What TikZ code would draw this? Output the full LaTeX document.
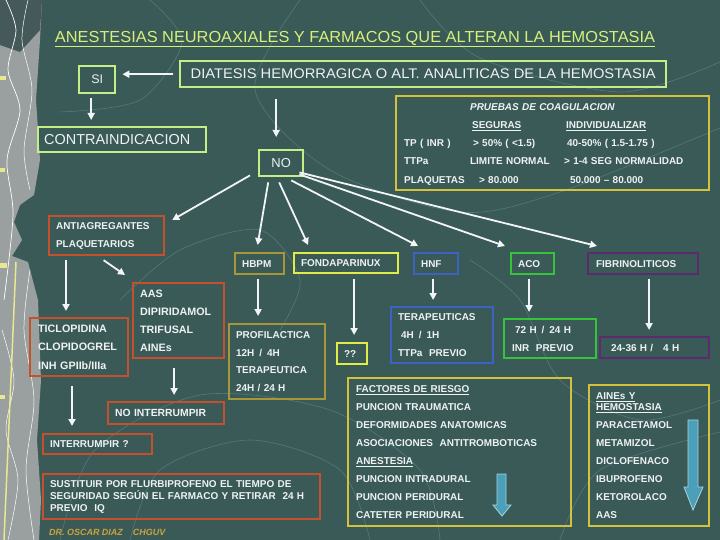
\documentclass[tikz,border=0pt]{standalone}
\usepackage{fontspec}
\setmainfont{Liberation Sans}
\usetikzlibrary{arrows.meta}
\definecolor{bgteal}{HTML}{3A5A58}
\definecolor{lgreen}{HTML}{C6EE86}
\definecolor{titlec}{HTML}{D6F07A}
\definecolor{gold}{HTML}{D2C23C}
\definecolor{redo}{HTML}{C4502C}
\definecolor{olive}{HTML}{A8963A}
\definecolor{ybright}{HTML}{E2EC48}
\definecolor{blueb}{HTML}{3C62C4}
\definecolor{greenb}{HTML}{38C43A}
\definecolor{purp}{HTML}{5C2A6E}
\definecolor{txt}{HTML}{EEF2F2}
\definecolor{arrw}{HTML}{F2F5F5}
\definecolor{foot}{HTML}{C9A33B}
\definecolor{bgline}{HTML}{55787A}
\definecolor{stripgray}{HTML}{9A9FA0}
\definecolor{stripdark}{HTML}{46595A}
\definecolor{stripyel}{HTML}{E8E890}
\definecolor{bigfill}{HTML}{4C9FB8}
\definecolor{bigedge}{HTML}{A6D4E2}
\newcommand\bxf{\fontsize{10}{18}\selectfont\bfseries}
\begin{document}
\begin{tikzpicture}[x=1bp,y=-1bp,
    lg/.style={draw=lgreen, line width=2.4bp, anchor=north west, inner sep=0pt, text=txt},
    bx/.style={draw, line width=2.2bp, anchor=north west, inner ysep=0pt, inner xsep=7bp, align=left, text=txt, font=\bxf},
    arr/.style={draw=arrw, line width=1.8bp, -{Triangle[length=7bp,width=7bp]}},
    bigarr/.style={fill=bigfill, draw=bigedge, line width=.8bp},
    bgl/.style={draw=bgline, line width=.6bp}]
    \useasboundingbox (0,0) rectangle (720,540);
    \fill[bgteal] (0,0) rectangle (720,540);
    \draw[bgl] plot[smooth] coordinates {(300,0) (255,90) (330,170) (460,212) (560,192) (720,128)};
    \draw[bgl] plot[smooth] coordinates {(420,0) (480,58) (620,92) (720,62)};
    \draw[bgl] plot[smooth] coordinates {(150,0) (182,42) (140,100) (60,112)};
    \draw[bgl] plot[smooth] coordinates {(60,540) (95,450) (200,395) (330,410) (420,470) (440,540)};
    \draw[bgl] plot[smooth] coordinates {(130,540) (160,470) (250,440) (340,470) (370,540)};
    \draw[bgl] plot[smooth] coordinates {(560,540) (600,470) (720,432)};
    \draw[bgl] plot[smooth] coordinates {(470,260) (520,300) (560,380) (640,420) (720,400)};
    \draw[bgl] plot[smooth] coordinates {(120,300) (180,250) (260,230) (300,280) (280,330)};
    \fill[stripgray] (0,0) -- (42,0) -- (40,40) -- (36,100) -- (40,160) -- (34,195) -- (20,205) -- (14,222) -- (22,240) -- (12,256) -- (28,262) -- (38,300) -- (41,380) -- (37,440) -- (41,500) -- (39,540) -- (0,540) -- cycle;
    \fill[stripdark] (0,0) -- (42,0) -- (40,30) -- (20,52) -- (0,45) -- cycle;
    \draw[white, line width=.7bp] plot[smooth] coordinates {(6,0) (16,30) (8,70) (20,110) (7,160) (13,215) (4,300)};
    \draw[white, line width=.5bp] plot[smooth] coordinates {(28,0) (22,40) (32,90) (24,150) (30,190)};
    \draw[white, line width=.5bp] plot[smooth] coordinates {(2,330) (14,380) (6,430) (18,480) (8,540)};
    \draw[white, line width=.5bp] plot[smooth] coordinates {(30,270) (24,330) (34,400) (26,470) (34,540)};
    \draw[stripyel, line width=1.5bp] (16,262) -- (4,540);
    \fill[stripyel] (0,76) rectangle (6,80);
    \fill[stripyel] (0,168) rectangle (5,172);
    \fill[stripyel] (0,263) rectangle (7,268);
    \fill[stripyel] (0,395) rectangle (5,399);

    \node[inner sep=0pt, text=titlec] (title) at (355,39) {\resizebox{600bp}{\height}{\fontsize{16}{18}\selectfont\underline{ANESTESIAS NEUROAXIALES Y FARMACOS QUE ALTERAN LA HEMOSTASIA}}};
    \node[lg, minimum width=486bp, minimum height=26bp] (diat) at (179,60) {\resizebox{465bp}{\height}{\fontsize{14}{16}\selectfont DIATESIS HEMORRAGICA O ALT. ANALITICAS DE LA HEMOSTASIA}};
    \node[lg, minimum width=36bp, minimum height=27bp, font=\fontsize{12.5}{14}\selectfont] (si) at (78,65) {SI};
    \node[bx, draw=lgreen, line width=2.4bp, inner xsep=6bp, text width=156bp, minimum height=25bp, font=\fontsize{14.5}{16}\selectfont] (contra) at (37,126) {CONTRAINDICACION};
    \node[lg, minimum width=44bp, minimum height=26bp, font=\fontsize{13}{15}\selectfont] (no) at (258,149) {NO};
    \node[bx, draw=gold, inner xsep=8bp, text width=297bp, minimum height=94bp, font=\fontsize{10}{18.3}\selectfont\bfseries] (pruebas) at (395,95) {%
      \begin{tabular}{@{}p{66bp}@{}p{94bp}@{}l@{}}
        & \multicolumn{2}{@{}l}{\itshape PRUEBAS DE COAGULACION}\\
        & \hspace*{2bp}\underline{SEGURAS} & \hspace*{2bp}\underline{INDIVIDUALIZAR}\\
        TP ( INR ) & \hspace*{3bp}> 50\% ( <1.5) & \hspace*{3bp}40-50\% ( 1.5-1.75 )\\
        TTPa & LIMITE NORMAL & > 1-4 SEG NORMALIDAD\\
        PLAQUETAS & \hspace*{9bp}> 80.000 & \hspace*{6bp}50.000 – 80.000
      \end{tabular}};

    \node[bx, draw=redo, text width=101bp, minimum height=39bp] (antiag) at (48,215) {ANTIAGREGANTES\\PLAQUETARIOS};
    \node[bx, draw=olive, text width=35bp, minimum height=21bp] (hbpm) at (234,252) {HBPM};
    \node[bx, draw=ybright, text width=90bp, minimum height=20bp] (fonda) at (293,252) {FONDAPARINUX};
    \node[bx, draw=blueb, text width=30bp, minimum height=21bp] (hnf) at (413,252) {HNF};
    \node[bx, draw=greenb, text width=29bp, minimum height=21bp] (aco) at (510,252) {ACO};
    \node[bx, draw=purp, inner xsep=8bp, text width=94bp, minimum height=21bp] (fibr) at (587,252) {FIBRINOLITICOS};

    \node[bx, draw=redo, inner xsep=8bp, text width=82bp, minimum height=58bp, font=\fontsize{10.8}{18.5}\selectfont\bfseries] (ticlo) at (29,317) {TICLOPIDINA\\CLOPIDOGREL\\INH GPIIb/IIIa};
    \node[bx, draw=redo, text width=77bp, minimum height=75bp, font=\fontsize{10.8}{18}\selectfont\bfseries] (aas) at (132,282) {AAS\\DIPIRIDAMOL\\TRIFUSAL\\AINEs};
    \node[bx, draw=olive, text width=82bp, minimum height=75bp] (prof) at (228,323) {PROFILACTICA\\12H \,/\, 4H\\TERAPEUTICA\\24H / 24 H};
    \node[bx, draw=ybright, text width=16bp, minimum height=21bp] (qq) at (336,342) {??};
    \node[bx, draw=blueb, text width=88bp, minimum height=56bp] (terap) at (390,306) {TERAPEUTICAS\\\hspace*{3bp}4H \,/\, 1H\\TTPa \ PREVIO};
    \node[bx, draw=greenb, inner xsep=8bp, text width=76bp, minimum height=39bp] (aco2) at (503,318) {\hspace*{3bp}72 H \,/\, 24 H\\INR \ PREVIO};
    \node[bx, draw=purp, text width=95bp, minimum height=21bp] (fib2) at (599,336) {\hspace*{4bp}24-36 H /\hspace*{10bp}4 H};

    \node[bx, draw=redo, text width=102bp, minimum height=22bp, font=\fontsize{10.4}{18}\selectfont\bfseries] (nointer) at (107,401) {NO INTERRUMPIR};
    \node[bx, draw=redo, text width=95bp, minimum height=20bp] (inter) at (42,433) {INTERRUMPIR ?};
    \node[bx, draw=redo, text width=263bp, minimum height=45bp, font=\fontsize{10}{12}\selectfont\bfseries] (sust) at (42,473) {SUSTITUIR POR FLURBIPROFENO EL TIEMPO DE\\SEGURIDAD SEGÚN EL FARMACO Y RETIRAR \ 24 H\\PREVIO \ IQ};
    \node[bx, draw=gold, inner xsep=8bp, text width=207bp, minimum height=148bp] (factores) at (347,377) {\underline{FACTORES DE RIESGO}\\PUNCION TRAUMATICA\\DEFORMIDADES ANATOMICAS\\ASOCIACIONES \ ANTITROMBOTICAS\\\underline{ANESTESIA}\\PUNCION INTRADURAL\\PUNCION PERIDURAL\\CATETER PERIDURAL};
    \node[bx, draw=gold, text width=106bp, minimum height=141bp] (aines) at (588,384) {\underline{AINEs Y}\\[-7bp]\underline{HEMOSTASIA}\\PARACETAMOL\\METAMIZOL\\DICLOFENACO\\IBUPROFENO\\KETOROLACO\\AAS};
    \filldraw[bigarr] (497,474) -- (506,474) -- (506,505) -- (511,505) -- (502,516) -- (493,505) -- (497,505) -- cycle;
    \filldraw[bigarr] (688,420) -- (698,420) -- (698,487) -- (703,487) -- (693,510) -- (684,487) -- (688,487) -- cycle;
    \node[anchor=west, inner sep=0pt, text=foot, font=\fontsize{9}{10}\selectfont\bfseries\itshape] (firma) at (49,532) {DR. OSCAR DIAZ\hspace{10bp}CHGUV};

    \draw[arr, shorten >=6bp] ([xshift=-6bp]diat.west) -- (si.east |- diat.west);
    \draw[arr] ([xshift=-6bp,yshift=-4bp]si.south) -- ([xshift=-6bp,yshift=6bp]si.south |- contra.north);
    \draw[arr] ([xshift=-5bp,yshift=-11bp]no.north |- diat.south) -- ([xshift=-5bp,yshift=12bp]no.north);
    \draw[arr] ([xshift=-8bp,yshift=2bp]no.south west) -- ([xshift=7bp,yshift=-5bp]antiag.north east);
    \draw[arr] ([xshift=-13bp,yshift=-5bp]no.south) -- ([xshift=-2bp,yshift=7bp]hbpm.north);
    \draw[arr] ([xshift=-2bp,yshift=-5bp]no.south) -- ([xshift=-38bp,yshift=7bp]fonda.north);
    \draw[arr] ([xshift=10bp,yshift=-3bp]no.south) -- ([xshift=-18bp,yshift=6bp]hnf.north);
    \draw[arr] ([xshift=-5bp,yshift=3bp]no.south east) -- ([xshift=-5bp,yshift=6bp]aco.north west);
    \draw[arr] ([xshift=-5bp,yshift=5bp]no.south east) -- ([xshift=10bp,yshift=6bp]fibr.north west);
    \draw[arr] ([xshift=18bp,yshift=-4bp]antiag.south west) -- ([xshift=18bp,yshift=6bp]antiag.south west |- ticlo.north);
    \draw[arr] ([xshift=-3bp,yshift=-4bp]antiag.south) -- ([xshift=-7bp,yshift=7bp]aas.north west);
    \draw[arr] ([xshift=-1.5bp,yshift=-4bp]hbpm.south) -- ([xshift=-1.5bp,yshift=7bp]hbpm.south |- prof.north);
    \draw[arr] ([xshift=2bp,yshift=-5bp]qq.north |- fonda.south) -- ([xshift=2bp,yshift=7bp]qq.north);
    \draw[arr] ([xshift=-3bp,yshift=-4bp]hnf.south) -- ([xshift=-3bp,yshift=6bp]hnf.south |- terap.north);
    \draw[arr] ([xshift=-3.5bp,yshift=-4bp]aco.south) -- ([xshift=-3.5bp,yshift=6bp]aco.south |- aco2.north);
    \draw[arr] ([xshift=6bp,yshift=-4bp]fibr.south) -- ([xshift=6bp,yshift=6bp]fibr.south |- fib2.north);
    \draw[arr] ([xshift=43bp,yshift=-9bp]ticlo.south west) -- ([xshift=43bp,yshift=7bp]ticlo.south west |- inter.north);
    \draw[arr] ([xshift=-4.5bp,yshift=-9bp]aas.south) -- ([xshift=-4.5bp,yshift=6bp]aas.south |- nointer.north);
\end{tikzpicture}
\end{document}
